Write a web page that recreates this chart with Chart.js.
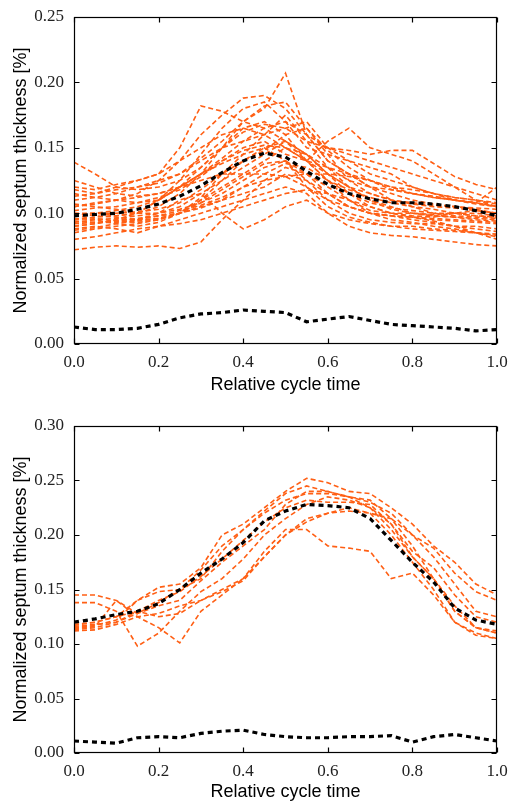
<!DOCTYPE html>
<html>
<head>
<meta charset="utf-8">
<script src="https://cdn.jsdelivr.net/npm/chart.js@4.4.1/dist/chart.umd.min.js"></script>
<style>
  html, body { margin: 0; padding: 0; background: #fff; }
  canvas { display: block; }
</style>
</head>
<body>
<canvas id="topChart" width="511" height="400"></canvas>
<canvas id="bottomChart" width="511" height="403"></canvas>
<script>
// relative cycle time samples
const times = [0, 0.05, 0.1, 0.15, 0.2, 0.25, 0.3, 0.35, 0.4, 0.45, 0.5,
  0.55, 0.6, 0.65, 0.7, 0.75, 0.8, 0.85, 0.9, 0.95, 1.0];

const xTicks = [0, 0.2, 0.4, 0.6, 0.8, 1.0];
const topYTicks = [0, 0.05, 0.1, 0.15, 0.2, 0.25];
const bottomYTicks = [0, 0.05, 0.1, 0.15, 0.2, 0.25, 0.3];

// top panel: mean, std and individual subjects
const topMean = [0.098, 0.099, 0.100, 0.103, 0.107, 0.113, 0.121, 0.131, 0.140, 0.146, 0.143,
  0.132, 0.122, 0.115, 0.111, 0.108, 0.108, 0.107, 0.105, 0.102, 0.098];
const topStd = [0.013, 0.011, 0.011, 0.012, 0.015, 0.020, 0.023, 0.024, 0.026, 0.025, 0.024,
  0.017, 0.019, 0.021, 0.018, 0.015, 0.014, 0.013, 0.012, 0.010, 0.011];
const topSubjects = [
  [0.118, 0.115, 0.120, 0.125, 0.130, 0.150, 0.182, 0.178, 0.170, 0.165, 0.155, 0.140, 0.130, 0.120, 0.110, 0.105, 0.100, 0.098, 0.097, 0.095, 0.094],
  [0.139, 0.130, 0.120, 0.118, 0.120, 0.125, 0.135, 0.150, 0.165, 0.170, 0.160, 0.140, 0.125, 0.118, 0.112, 0.108, 0.105, 0.103, 0.100, 0.098, 0.097],
  [0.072, 0.074, 0.075, 0.074, 0.075, 0.073, 0.078, 0.095, 0.110, 0.125, 0.135, 0.130, 0.120, 0.110, 0.100, 0.095, 0.093, 0.090, 0.088, 0.085, 0.083],
  [0.100, 0.100, 0.098, 0.100, 0.105, 0.115, 0.130, 0.150, 0.170, 0.180, 0.207, 0.160, 0.140, 0.130, 0.120, 0.110, 0.105, 0.100, 0.100, 0.098, 0.097],
  [0.105, 0.108, 0.110, 0.115, 0.125, 0.140, 0.160, 0.175, 0.188, 0.190, 0.180, 0.160, 0.140, 0.130, 0.120, 0.115, 0.110, 0.107, 0.105, 0.103, 0.100],
  [0.095, 0.097, 0.098, 0.100, 0.110, 0.125, 0.145, 0.165, 0.180, 0.185, 0.170, 0.150, 0.145, 0.140, 0.135, 0.130, 0.120, 0.115, 0.110, 0.108, 0.105],
  [0.098, 0.100, 0.102, 0.105, 0.110, 0.120, 0.130, 0.140, 0.150, 0.155, 0.145, 0.140, 0.155, 0.165, 0.150, 0.145, 0.140, 0.130, 0.120, 0.110, 0.105],
  [0.090, 0.092, 0.095, 0.095, 0.100, 0.110, 0.115, 0.100, 0.088, 0.095, 0.105, 0.110, 0.100, 0.095, 0.092, 0.090, 0.090, 0.088, 0.087, 0.085, 0.082],
  [0.085, 0.088, 0.090, 0.092, 0.095, 0.100, 0.105, 0.110, 0.115, 0.120, 0.130, 0.125, 0.115, 0.105, 0.100, 0.098, 0.095, 0.093, 0.090, 0.088, 0.086],
  [0.120, 0.118, 0.122, 0.125, 0.130, 0.140, 0.150, 0.160, 0.165, 0.160, 0.150, 0.140, 0.135, 0.130, 0.125, 0.120, 0.118, 0.115, 0.112, 0.110, 0.108],
  [0.100, 0.098, 0.097, 0.095, 0.096, 0.100, 0.110, 0.125, 0.140, 0.150, 0.155, 0.145, 0.130, 0.115, 0.105, 0.100, 0.098, 0.097, 0.100, 0.102, 0.100],
  [0.110, 0.112, 0.115, 0.120, 0.125, 0.130, 0.140, 0.150, 0.155, 0.160, 0.165, 0.170, 0.150, 0.140, 0.130, 0.125, 0.120, 0.115, 0.112, 0.110, 0.107],
  [0.088, 0.090, 0.088, 0.085, 0.090, 0.095, 0.100, 0.105, 0.110, 0.115, 0.120, 0.115, 0.100, 0.090, 0.085, 0.083, 0.082, 0.080, 0.078, 0.076, 0.075],
  [0.093, 0.095, 0.096, 0.098, 0.100, 0.103, 0.108, 0.115, 0.125, 0.135, 0.140, 0.130, 0.115, 0.105, 0.100, 0.098, 0.097, 0.096, 0.095, 0.094, 0.093],
  [0.102, 0.104, 0.105, 0.108, 0.112, 0.118, 0.128, 0.140, 0.148, 0.152, 0.150, 0.140, 0.125, 0.110, 0.102, 0.100, 0.100, 0.099, 0.100, 0.100, 0.098],
  [0.096, 0.095, 0.092, 0.090, 0.093, 0.100, 0.112, 0.130, 0.145, 0.160, 0.175, 0.155, 0.135, 0.120, 0.110, 0.103, 0.100, 0.098, 0.097, 0.096, 0.095],
  [0.115, 0.112, 0.110, 0.108, 0.110, 0.120, 0.135, 0.150, 0.162, 0.168, 0.165, 0.155, 0.150, 0.148, 0.145, 0.148, 0.148, 0.138, 0.128, 0.122, 0.118],
  [0.080, 0.082, 0.085, 0.088, 0.090, 0.092, 0.095, 0.100, 0.105, 0.110, 0.115, 0.118, 0.115, 0.110, 0.105, 0.100, 0.097, 0.094, 0.090, 0.085, 0.080],
  [0.107, 0.105, 0.103, 0.100, 0.100, 0.105, 0.115, 0.125, 0.135, 0.145, 0.155, 0.145, 0.130, 0.120, 0.115, 0.110, 0.108, 0.106, 0.105, 0.104, 0.103],
  [0.092, 0.093, 0.094, 0.096, 0.098, 0.100, 0.104, 0.110, 0.120, 0.130, 0.138, 0.135, 0.125, 0.115, 0.108, 0.104, 0.102, 0.100, 0.098, 0.097, 0.096],
  [0.099, 0.100, 0.100, 0.101, 0.103, 0.108, 0.118, 0.130, 0.140, 0.148, 0.160, 0.165, 0.145, 0.125, 0.115, 0.110, 0.107, 0.105, 0.104, 0.102, 0.100],
  [0.125, 0.120, 0.115, 0.113, 0.115, 0.120, 0.130, 0.142, 0.155, 0.165, 0.170, 0.160, 0.150, 0.145, 0.140, 0.135, 0.130, 0.125, 0.120, 0.115, 0.110],
  [0.087, 0.089, 0.092, 0.094, 0.096, 0.100, 0.108, 0.118, 0.128, 0.138, 0.140, 0.125, 0.110, 0.100, 0.095, 0.093, 0.092, 0.092, 0.090, 0.090, 0.088],
  [0.113, 0.115, 0.118, 0.120, 0.123, 0.130, 0.142, 0.155, 0.170, 0.182, 0.185, 0.165, 0.148, 0.135, 0.125, 0.118, 0.115, 0.112, 0.110, 0.108, 0.105],
  [0.094, 0.093, 0.093, 0.095, 0.098, 0.102, 0.106, 0.112, 0.120, 0.125, 0.128, 0.130, 0.130, 0.128, 0.125, 0.120, 0.115, 0.112, 0.110, 0.107, 0.105],
  [0.105, 0.107, 0.110, 0.112, 0.115, 0.120, 0.125, 0.130, 0.130, 0.130, 0.128, 0.120, 0.110, 0.105, 0.100, 0.098, 0.097, 0.095, 0.094, 0.093, 0.092],
  [0.098, 0.096, 0.094, 0.093, 0.095, 0.100, 0.110, 0.120, 0.130, 0.140, 0.150, 0.145, 0.135, 0.125, 0.120, 0.118, 0.115, 0.113, 0.110, 0.108, 0.120],
  [0.090, 0.092, 0.095, 0.100, 0.110, 0.120, 0.130, 0.138, 0.145, 0.150, 0.140, 0.120, 0.105, 0.097, 0.093, 0.090, 0.088, 0.087, 0.086, 0.085, 0.084]
];

// bottom panel
const bottomMean = [0.120, 0.123, 0.127, 0.130, 0.137, 0.150, 0.165, 0.178, 0.193, 0.213, 0.222,
  0.228, 0.227, 0.225, 0.215, 0.195, 0.175, 0.157, 0.133, 0.122, 0.118];
const bottomStd = [0.011, 0.010, 0.009, 0.014, 0.015, 0.014, 0.018, 0.020, 0.021, 0.017, 0.015,
  0.014, 0.014, 0.015, 0.015, 0.016, 0.010, 0.015, 0.017, 0.014, 0.011];
const bottomSubjects = [
  [0.145, 0.145, 0.140, 0.128, 0.138, 0.150, 0.168, 0.190, 0.205, 0.222, 0.238, 0.245, 0.240, 0.235, 0.232, 0.215, 0.200, 0.188, 0.165, 0.148, 0.140],
  [0.138, 0.138, 0.130, 0.098, 0.110, 0.130, 0.148, 0.160, 0.178, 0.200, 0.215, 0.228, 0.235, 0.232, 0.225, 0.210, 0.180, 0.160, 0.130, 0.115, 0.110],
  [0.118, 0.120, 0.125, 0.140, 0.152, 0.155, 0.170, 0.200, 0.210, 0.225, 0.240, 0.252, 0.248, 0.240, 0.238, 0.225, 0.210, 0.190, 0.175, 0.155, 0.145],
  [0.116, 0.118, 0.120, 0.128, 0.135, 0.140, 0.158, 0.175, 0.190, 0.205, 0.228, 0.240, 0.240, 0.235, 0.225, 0.205, 0.180, 0.160, 0.135, 0.115, 0.110],
  [0.114, 0.116, 0.140, 0.125, 0.115, 0.101, 0.130, 0.145, 0.160, 0.180, 0.200, 0.215, 0.220, 0.225, 0.220, 0.200, 0.175, 0.150, 0.120, 0.108, 0.105],
  [0.112, 0.113, 0.118, 0.125, 0.128, 0.135, 0.140, 0.150, 0.160, 0.185, 0.205, 0.205, 0.190, 0.188, 0.185, 0.160, 0.165, 0.145, 0.120, 0.110, 0.105],
  [0.113, 0.115, 0.120, 0.130, 0.125, 0.128, 0.140, 0.148, 0.158, 0.180, 0.200, 0.212, 0.220, 0.222, 0.220, 0.215, 0.190, 0.160, 0.130, 0.115, 0.112],
  [0.115, 0.117, 0.122, 0.140, 0.148, 0.150, 0.160, 0.185, 0.205, 0.220, 0.232, 0.238, 0.238, 0.235, 0.230, 0.220, 0.200, 0.180, 0.155, 0.130, 0.125],
  [0.117, 0.120, 0.125, 0.130, 0.140, 0.148, 0.162, 0.178, 0.195, 0.212, 0.225, 0.232, 0.230, 0.230, 0.228, 0.210, 0.185, 0.170, 0.145, 0.125, 0.120]
];

const ORANGE = '#ff5f14';
const tickFont = { family: '"Liberation Serif", "DejaVu Serif", serif', size: 17 };
const titleFont = { family: '"Liberation Sans", Arial, sans-serif', size: 18 };

function toPoints(values) {
  return values.map((v, i) => ({ x: times[i], y: v }));
}

// box frame plus inward ticks on all four sides
const framePlugin = {
  id: 'frame',
  afterDatasetsDraw(chart) {
    const { ctx, chartArea: a, scales: { x, y } } = chart;
    const L = Math.round(a.left) + 0.5, R = Math.round(a.right) - 0.5;
    const T = Math.round(a.top) + 0.5, B = Math.round(a.bottom) - 0.5;
    ctx.save();
    ctx.strokeStyle = '#000';
    ctx.lineWidth = 1.2;
    ctx.strokeRect(L, T, R - L, B - T);
    ctx.beginPath();
    x.ticks.forEach((t) => {
      const px = Math.round(x.getPixelForValue(t.value)) + 0.5;
      ctx.moveTo(px, B); ctx.lineTo(px, B - 5);
      ctx.moveTo(px, T); ctx.lineTo(px, T + 5);
    });
    y.ticks.forEach((t) => {
      const py = Math.round(y.getPixelForValue(t.value)) + 0.5;
      ctx.moveTo(L, py); ctx.lineTo(L + 5, py);
      ctx.moveTo(R, py); ctx.lineTo(R - 5, py);
    });
    ctx.stroke();
    ctx.restore();
  },
};

function makeChart(id, mean, std, subjects, yTicks, yMax, topPad, xHeight, xTitlePad) {
  const datasets = [
    { data: toPoints(mean), borderColor: '#000', borderWidth: 3.2, borderDash: [5, 4] },
    { data: toPoints(std), borderColor: '#000', borderWidth: 3.2, borderDash: [5, 4] },
  ];
  subjects.forEach((s) => {
    datasets.push({ data: toPoints(s), borderColor: ORANGE, borderWidth: 1.6, borderDash: [5, 3] });
  });

  return new Chart(document.getElementById(id), {
    type: 'line',
    data: { datasets },
    plugins: [framePlugin],
    options: {
      responsive: false,
      animation: false,
      layout: { padding: { top: topPad, right: 14, left: 0, bottom: 0 } },
      elements: { point: { radius: 0 }, line: { tension: 0, fill: false } },
      plugins: { legend: { display: false }, tooltip: { enabled: false } },
      scales: {
        x: {
          type: 'linear',
          min: 0,
          max: 1,
          afterBuildTicks: (scale) => { scale.ticks = xTicks.map((v) => ({ value: v })); },
          afterFit: (scale) => {
            scale.height = xHeight;
            scale.paddingLeft = 0;
            scale.paddingRight = 0;
          },
          ticks: { font: tickFont, color: '#222', padding: 8, callback: (v) => v.toFixed(1) },
          grid: { display: false, drawTicks: false },
          border: { display: false },
          title: { display: true, text: 'Relative cycle time', font: titleFont, color: '#000', padding: { top: 6, bottom: xTitlePad } },
        },
        y: {
          type: 'linear',
          min: 0,
          max: yMax,
          afterBuildTicks: (scale) => { scale.ticks = yTicks.map((v) => ({ value: v })); },
          afterFit: (scale) => {
            scale.width = 74;
            scale.paddingTop = 0;
            scale.paddingBottom = 0;
          },
          ticks: { font: tickFont, color: '#222', padding: 10, callback: (v) => v.toFixed(2) },
          grid: { display: false, drawTicks: false },
          border: { display: false },
          title: { display: true, text: 'Normalized septum thickness [%]', font: titleFont, color: '#000', padding: { top: 10, bottom: 0 } },
        },
      },
    },
  });
}

makeChart('topChart', topMean, topStd, topSubjects, topYTicks, 0.25, 17, 56, 4);
makeChart('bottomChart', bottomMean, bottomStd, bottomSubjects, bottomYTicks, 0.30, 26, 50, 0);
</script>
</body>
</html>
